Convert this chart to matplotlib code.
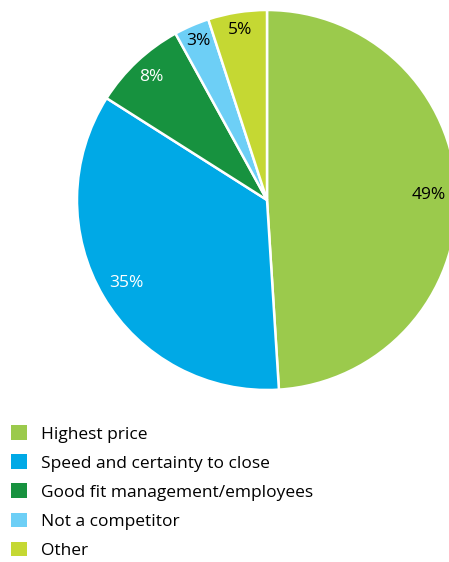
import numpy as np
import matplotlib.pyplot as plt

# Data
labels = ["Highest price", "Speed and certainty to close",
          "Good fit management/employees", "Not a competitor", "Other"]
shares = [49, 35, 8, 3, 5]
colors = ["#9BCA4C", "#00A9E6", "#17923F", "#6DCFF6", "#C5D833"]
pct_colors = ["black", "white", "white", "black", "black"]
pct_dist = [0.85, 0.86, 0.89, 0.91, 0.905]

plt.rcParams['font.family'] = ['Open Sans', 'DejaVu Sans']

fig = plt.figure(figsize=(4.49, 5.62), dpi=100)
# pie centre at (267, 200) px, radius 190 px
ax = fig.add_axes([77 / 449, 1 - 390 / 562, 380 / 449, 380 / 562])
wedges, _ = ax.pie(shares, colors=colors, startangle=90, counterclock=False,
                   radius=1.0, wedgeprops=dict(edgecolor="white", linewidth=1.8))
for w, v, c, d in zip(wedges, shares, pct_colors, pct_dist):
    mid = np.deg2rad((w.theta1 + w.theta2) / 2)
    ax.text(d * np.cos(mid), d * np.sin(mid), f"{v}%", color=c,
            ha="center", va="center", fontsize=12.5)
ax.set_xlim(-1, 1)
ax.set_ylim(-1, 1)
ax.set_aspect("equal")
for w in wedges:
    w.set_clip_on(False)
ax.axis("off")

leg = fig.legend(wedges, labels, loc="upper left", bbox_to_anchor=(0.012, 1 - 420 / 562),
                 frameon=False, prop=dict(size=12.5),
                 handlelength=0.92, handleheight=0.92,
                 handletextpad=0.85, labelspacing=0.68, borderaxespad=0, borderpad=0.3)
for h in leg.legend_handles:
    h.set_edgecolor("none")
    h.set_linewidth(0)

fig.savefig("out.png", dpi=100)
